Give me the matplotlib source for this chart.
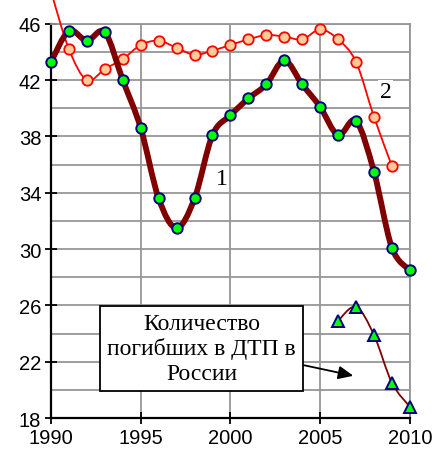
import numpy as np
import matplotlib.pyplot as plt
from matplotlib.path import Path
from matplotlib.patches import PathPatch

# --- data ---
years1 = list(range(1990, 2011))
series1 = [43.3, 45.5, 44.8, 45.4, 42.0, 38.6, 33.6, 31.5, 33.6, 38.1, 39.5,
           40.7, 41.7, 43.4, 41.7, 40.1, 38.1, 39.1, 35.5, 30.1, 28.5]
years2 = list(range(1990, 2010))
series2 = [48.3, 44.2, 42.0, 42.8, 43.5, 44.5, 44.8, 44.3, 43.8, 44.1,
           44.5, 44.9, 45.2, 45.1, 44.9, 45.6, 44.9, 43.3, 39.4, 35.9]
years3 = [2006, 2007, 2008, 2009, 2010]
series3 = [24.9, 25.9, 23.9, 20.5, 18.8]

x_ticks = [1990, 1995, 2000, 2005, 2010]
y_ticks = [18, 22, 26, 30, 34, 38, 42, 46]
box_text = 'Количество\nпогибших в ДТП в\nРоссии'


def smooth_path(x, y):
    # Excel-like smoothed line: cubic Bezier segments with Catmull-Rom handles
    x = np.asarray(x, float)
    y = np.asarray(y, float)
    n = len(x)
    verts = [(x[0], y[0])]
    codes = [Path.MOVETO]
    for i in range(n - 1):
        i0 = max(i - 1, 0)
        i3 = min(i + 2, n - 1)
        c1 = (x[i] + (x[i + 1] - x[i0]) / 6, y[i] + (y[i + 1] - y[i0]) / 6)
        c2 = (x[i + 1] - (x[i3] - x[i]) / 6, y[i + 1] - (y[i3] - y[i]) / 6)
        verts += [c1, c2, (x[i + 1], y[i + 1])]
        codes += [Path.CURVE4] * 3
    return Path(verts, codes)


fig = plt.figure(figsize=(4.36, 4.52), dpi=100)
ax = fig.add_axes([0.117, 0.073, 0.823, 0.872])

ax.set_xlim(1990, 2010)
ax.set_ylim(18, 46)
ax.set_xticks(x_ticks)
ax.set_yticks(y_ticks)
ax.set_yticks(np.arange(18, 47, 2), minor=True)
ax.grid(True, which='both', axis='y', color='#969696', lw=1.3, zorder=0)
ax.grid(True, which='major', axis='x', color='#969696', lw=1.3, zorder=0)
ax.tick_params(axis='y', which='minor', length=0)
ax.tick_params(which='major', direction='inout', length=8, width=1.3,
               labelsize=14.5, pad=3)
for lab in ax.get_xticklabels() + ax.get_yticklabels():
    lab.set_family('Liberation Sans')
for side in ['top', 'right']:
    ax.spines[side].set_color('#969696')
    ax.spines[side].set_linewidth(1.3)
for side in ['left', 'bottom']:
    ax.spines[side].set_linewidth(1.6)

# series 2 (thin red line, peach markers)
ax.add_patch(PathPatch(smooth_path(years2, series2), fill=False,
                       edgecolor='red', lw=1.3, clip_on=False, zorder=3))
ax.plot(years2[1:], series2[1:], 'o', ms=7.5, mfc='#FFCC99', mec='red',
        mew=1.3, zorder=4, clip_on=False)

# series 1 (thick dark red line, green markers)
ax.add_patch(PathPatch(smooth_path(years1, series1), fill=False,
                       edgecolor='#800000', lw=4.2, capstyle='round',
                       joinstyle='round', zorder=5))
ax.plot(years1, series1, 'o', ms=7.5, mfc='#00FF00', mec='#000080',
        mew=1.4, zorder=6, clip_on=False)

# series 3 (triangles)
ax.add_patch(PathPatch(smooth_path(years3, series3), fill=False,
                       edgecolor='#800000', lw=1.3, zorder=5))
ax.plot(years3, series3, '^', ms=9, mfc='#00FF00', mec='#000080',
        mew=1.4, zorder=6, clip_on=False)

lab_kw = dict(family='Liberation Serif', fontsize=17, ha='center', va='center',
              zorder=7, bbox=dict(fc='white', ec='none', pad=1))
ax.text(1999.5, 35.0, '1', **lab_kw)
ax.text(2008.65, 41.2, '2', **lab_kw)

ax.text(1998.4, 22.95, box_text, family='Liberation Serif', fontsize=17,
        ha='center', va='center', linespacing=1.2, zorder=7,
        bbox=dict(boxstyle='square,pad=0.3', fc='white', ec='black', lw=1.3))
ax.annotate('', xy=(2006.85, 21.0), xytext=(2004.1, 21.75),
            arrowprops=dict(arrowstyle='-|>,head_length=0.9,head_width=0.4',
                            color='black', lw=1.3, shrinkA=0, shrinkB=0),
            zorder=7)

fig.savefig('out.png', dpi=100)
